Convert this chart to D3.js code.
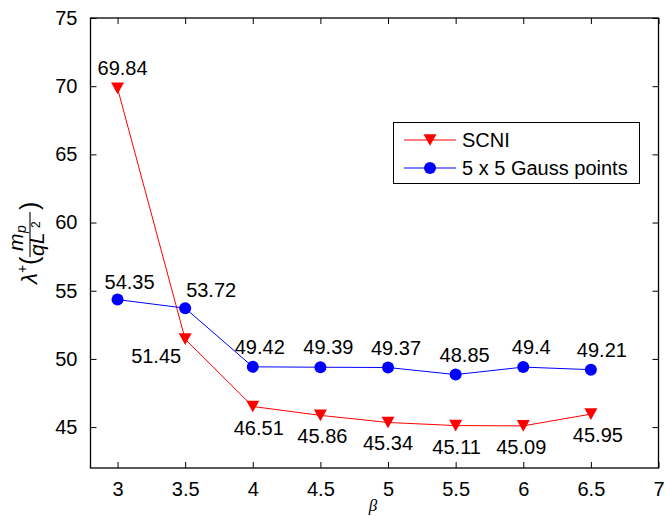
<!DOCTYPE html>
<html>
<head>
<meta charset="utf-8">
<script src="https://cdn.jsdelivr.net/npm/d3@7"></script>
<style>
  html, body { margin: 0; padding: 0; background: #fff; }
  svg { display: block; }
  text { font-family: "Liberation Sans", Arial, Helvetica, sans-serif; }
</style>
</head>
<body>
<svg id="chart" width="665" height="516"></svg>
<script>
// Data
const betaValues = [3, 3.5, 4, 4.5, 5, 5.5, 6, 6.5];
const scniValues = [69.84, 51.45, 46.51, 45.86, 45.34, 45.11, 45.09, 45.95];
const gaussValues = [54.35, 53.72, 49.42, 49.39, 49.37, 48.85, 49.4, 49.21];
const scniLabels = ["69.84", "51.45", "46.51", "45.86", "45.34", "45.11", "45.09", "45.95"];
const gaussLabels = ["54.35", "53.72", "49.42", "49.39", "49.37", "48.85", "49.4", "49.21"];
const xTicks = [3, 3.5, 4, 4.5, 5, 5.5, 6, 6.5, 7];
const yTicks = [45, 50, 55, 60, 65, 70, 75];
const seriesNames = ["SCNI", "5 x 5 Gauss points"];

// Label placement (pixel offsets from each marker)
const scniLabelDx = [5, -29, 6, 2, 0, 1, -2, 7];
const scniLabelDy = [-13, 24, 28, 28, 28, 28, 28, 28];
const gaussLabelDx = [12, 26, 7, 8, 8, 9, 8, 11];
const gaussLabelDy = [-11, -11, -13, -13, -13, -13, -13, -13];

const svg = d3.select("#chart");
const plotLeft = 90.5, plotRight = 658.5, plotTop = 18, plotBottom = 468;

const x = d3.scaleLinear().domain([2.8, 7]).range([plotLeft, plotRight]);
const y = d3.scaleLinear().domain([42, 75]).range([plotBottom, plotTop]);

const fontSize = 20;
const tickLen = 6;

// Axes (inward ticks on all four sides, MATLAB box style)
const axisG = svg.append("g");
axisG.append("g")
  .attr("transform", `translate(0,${plotBottom})`)
  .call(d3.axisBottom(x).tickValues(xTicks).tickSizeInner(-tickLen).tickSizeOuter(0).tickPadding(14).tickFormat(d3.format("")));
axisG.append("g")
  .attr("transform", `translate(0,${plotTop})`)
  .call(d3.axisTop(x).tickValues(xTicks).tickSizeInner(-tickLen).tickSizeOuter(0).tickFormat(""));
axisG.append("g")
  .attr("transform", `translate(${plotLeft},0)`)
  .call(d3.axisLeft(y).tickValues(yTicks).tickSizeInner(-tickLen).tickSizeOuter(0).tickPadding(13).tickFormat(d3.format("")));
axisG.append("g")
  .attr("transform", `translate(${plotRight},0)`)
  .call(d3.axisRight(y).tickValues(yTicks).tickSizeInner(-tickLen).tickSizeOuter(0).tickFormat(""));
axisG.selectAll(".domain").remove();
axisG.selectAll(".tick line").attr("stroke", "#000").attr("stroke-width", 1);
axisG.selectAll(".tick text")
  .attr("fill", "#000")
  .style("font-size", fontSize + "px")
  .style("font-family", "'Liberation Sans', Arial, sans-serif");

svg.append("rect")
  .attr("x", plotLeft).attr("y", plotTop)
  .attr("width", plotRight - plotLeft).attr("height", plotBottom - plotTop)
  .attr("fill", "none").attr("stroke", "#000").attr("stroke-width", 1.3);

// Down-pointing triangle marker
const triangleDown = {
  draw(ctx, size) {
    const w = 6.5, h = 5.8;
    ctx.moveTo(-w, -h);
    ctx.lineTo(w, -h);
    ctx.lineTo(0, h);
    ctx.closePath();
  }
};

const line = d3.line().x((d, i) => x(betaValues[i])).y(d => y(d));

// SCNI series
svg.append("path").datum(scniValues)
  .attr("d", line).attr("fill", "none").attr("stroke", "#ff0000").attr("stroke-width", 1);
svg.append("g").selectAll("path").data(scniValues).join("path")
  .attr("transform", (d, i) => `translate(${x(betaValues[i])},${y(d)})`)
  .attr("d", d3.symbol().type(triangleDown))
  .attr("fill", "#ff0000");

// Gauss series
svg.append("path").datum(gaussValues)
  .attr("d", line).attr("fill", "none").attr("stroke", "#0000ff").attr("stroke-width", 1);
svg.append("g").selectAll("circle").data(gaussValues).join("circle")
  .attr("cx", (d, i) => x(betaValues[i]))
  .attr("cy", d => y(d))
  .attr("r", 6)
  .attr("fill", "#0000ff");

// Value labels
svg.append("g").selectAll("text").data(scniValues).join("text")
  .attr("x", (d, i) => x(betaValues[i]) + scniLabelDx[i])
  .attr("y", (d, i) => y(d) + scniLabelDy[i])
  .attr("text-anchor", "middle")
  .style("font-size", fontSize + "px")
  .text((d, i) => scniLabels[i]);
svg.append("g").selectAll("text").data(gaussValues).join("text")
  .attr("x", (d, i) => x(betaValues[i]) + gaussLabelDx[i])
  .attr("y", (d, i) => y(d) + gaussLabelDy[i])
  .attr("text-anchor", "middle")
  .style("font-size", fontSize + "px")
  .text((d, i) => gaussLabels[i]);

// Legend
const lg = svg.append("g");
lg.append("rect")
  .attr("x", 393.5).attr("y", 122.5).attr("width", 246).attr("height", 61)
  .attr("fill", "#fff").attr("stroke", "#000").attr("stroke-width", 1);
const legendRows = [
  { name: seriesNames[0], color: "#ff0000", marker: "tri", yy: 140 },
  { name: seriesNames[1], color: "#0000ff", marker: "circ", yy: 168 }
];
legendRows.forEach(r => {
  lg.append("line").attr("x1", 404).attr("x2", 456).attr("y1", r.yy).attr("y2", r.yy)
    .attr("stroke", r.color).attr("stroke-width", 1);
  if (r.marker === "tri") {
    lg.append("path").attr("transform", `translate(430,${r.yy})`)
      .attr("d", d3.symbol().type(triangleDown)).attr("fill", r.color);
  } else {
    lg.append("circle").attr("cx", 430).attr("cy", r.yy).attr("r", 6).attr("fill", r.color);
  }
  lg.append("text").attr("x", 462).attr("y", r.yy + 7)
    .style("font-size", fontSize + "px").text(r.name);
});

// X axis title
svg.append("text")
  .attr("x", 373).attr("y", 511)
  .attr("text-anchor", "middle")
  .style("font-family", "'Liberation Serif', 'DejaVu Serif', serif")
  .style("font-style", "italic")
  .style("font-size", "17px")
  .text("β");

// Y axis title: λ⁺(m_p / qL²), rotated
const yl = svg.append("g").attr("transform", "rotate(-90)")
  .style("font-family", "'Liberation Serif', 'DejaVu Serif', serif");
yl.append("text").attr("x", -284).attr("y", 37)
  .style("font-style", "italic").style("font-size", "22px").text("λ");
yl.append("text").attr("x", -273).attr("y", 26.5)
  .style("font-size", "14px").text("+");
yl.append("text").attr("x", -265).attr("y", 37.5)
  .style("font-size", "25px").text("(");
yl.append("text").attr("x", -251).attr("y", 23)
  .style("font-style", "italic").style("font-size", "21px").text("m");
yl.append("text").attr("x", -233).attr("y", 25.5)
  .style("font-style", "italic").style("font-size", "14px").text("p");
yl.append("line").attr("x1", -257).attr("x2", -212).attr("y1", 30).attr("y2", 30)
  .attr("stroke", "#000").attr("stroke-width", 1.1);
yl.append("text").attr("x", -256).attr("y", 43.5)
  .style("font-style", "italic").style("font-size", "21px").text("qL");
yl.append("text").attr("x", -228).attr("y", 40)
  .style("font-size", "12px").text("2");
yl.append("text").attr("x", -210).attr("y", 37.5)
  .style("font-size", "25px").text(")");
</script>
</body>
</html>
